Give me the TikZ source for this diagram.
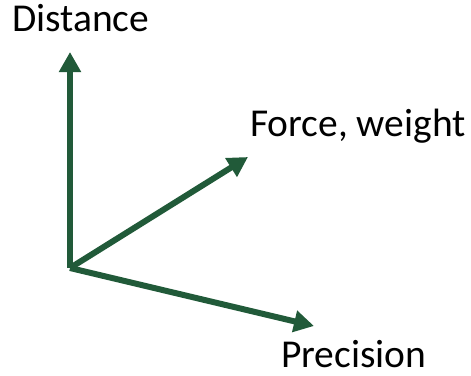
\documentclass[tikz,border=0pt]{standalone}
\usepackage{fontspec}
\setmainfont{Carlito}
\usetikzlibrary{arrows.meta}
\definecolor{axgreen}{RGB}{33,90,57}
\tikzset{
  axis/.style={draw=axgreen, line width=6pt, -{Triangle[length=20pt,width=21pt]}},
  lbl/.style={anchor=base west, inner sep=0pt, text depth=0pt, font=\fontsize{39.5}{46}\selectfont, text=black}
}
\begin{document}
\begin{tikzpicture}[x=1pt,y=-1pt]
\useasboundingbox (0,0) rectangle (471,375);
\coordinate (O) at (70,268);
\coordinate (td) at (70,52);
\coordinate (tf) at (248,157);
\coordinate (tp) at (314,326);
\draw[axis] (O) -- (td);
\draw[axis] (O) -- (tf);
\draw[axis] (O) -- (tp);
\node[lbl] (dist) at (12,31) {Distance};
\node[lbl] (force) at (250,136) {Force, weight};
\node[lbl] (prec) at (281,367) {Precision};
\end{tikzpicture}
\end{document}
